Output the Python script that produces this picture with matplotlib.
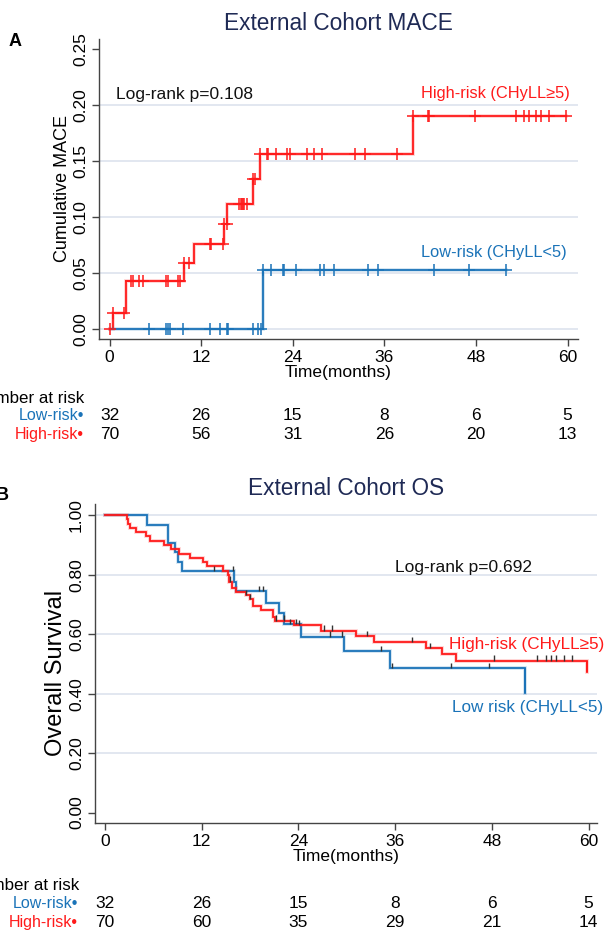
import matplotlib
matplotlib.use("Agg")
import matplotlib.pyplot as plt
import matplotlib.patheffects as pe
from matplotlib.transforms import blended_transform_factory
import numpy as np

plt.rcParams['font.family'] = ['Liberation Sans', 'DejaVu Sans']

# ---------------- Data ----------------
time_ticks = [0, 12, 24, 36, 48, 60]

# Panel A: cumulative MACE
mace_hi_t = [0, 0.5, 2.1, 9.7, 11.0, 15.0, 15.4, 18.8, 19.7, 39.8]
mace_hi_v = [0, 0.0143, 0.0429, 0.0592, 0.0756, 0.0935, 0.1116, 0.1338, 0.1567, 0.1905]
mace_hi_end = 59.8
mace_hi_cens = [0, 0.5, 1.9, 2.8, 3.0, 3.9, 4.4, 7.4, 7.6, 8.9, 9.2, 9.75, 10.4, 13.1, 13.3,
                14.8, 15.0, 15.35, 16.9, 17.2, 17.4, 17.5, 17.65, 18.0, 18.8, 19.1, 19.7, 20.6,
                20.8, 21.8, 23.2, 23.6, 25.9, 26.8, 27.8, 32.1, 33.4, 37.7, 39.8, 41.7, 41.9,
                47.9, 53.2, 54.3, 54.9, 55.9, 56.5, 57.6, 59.8]

mace_lo_t = [0, 20.05]
mace_lo_v = [0, 0.0526]
mace_lo_end = 52.0
mace_lo_cens = [5.2, 7.4, 7.6, 7.9, 9.6, 13.1, 14.4, 15.35, 15.5, 18.8, 19.5, 19.9, 20.05, 21.1,
                22.7, 22.9, 24.4, 27.6, 28.1, 29.4, 33.9, 35.2, 42.5, 47.1, 52.0]

mace_lo_risk = [32, 26, 15, 8, 6, 5]
mace_hi_risk = [70, 56, 31, 26, 20, 13]

# Panel B: overall survival
os_hi_t = [0, 2.7, 2.9, 3.1, 3.8, 5.1, 5.6, 7.3, 8.2, 9.2, 10.5, 12.1, 12.6, 14.7, 15.2, 15.4,
           15.7, 16.3, 17.5, 18.0, 18.4, 19.3, 20.9, 21.1, 23.4, 26.8, 31.2, 33.4, 39.8, 41.8,
           43.5, 59.8]
os_hi_s = [1.0, 0.986, 0.971, 0.957, 0.943, 0.929, 0.914, 0.900, 0.886, 0.871, 0.857, 0.843,
           0.829, 0.814, 0.800, 0.777, 0.757, 0.743, 0.732, 0.718, 0.695, 0.681, 0.659, 0.645,
           0.631, 0.612, 0.594, 0.573, 0.553, 0.533, 0.511, 0.474]
os_hi_end = 59.8
os_hi_cens = [15.45, 17.5, 18.0, 21.2, 22.2, 24.1, 27.2, 28.2, 32.5, 38.1, 40.3, 48.3, 53.6,
              54.7, 55.3, 56.0, 56.9, 57.9]

os_lo_t = [0, 5.25, 7.8, 8.7, 9.1, 9.55, 16.0, 16.3, 20.0, 21.6, 22.2, 24.3, 29.6, 35.3, 52.1]
os_lo_s = [1.0, 0.969, 0.908, 0.877, 0.844, 0.812, 0.776, 0.745, 0.706, 0.670, 0.634, 0.592,
           0.543, 0.485, 0.403]
os_lo_end = 52.1
os_lo_cens = [13.5, 15.9, 19.1, 19.6, 23.0, 23.7, 27.9, 29.4, 34.3, 35.6, 42.9, 47.6]

os_lo_risk = [32, 26, 15, 8, 6, 5]
os_hi_risk = [70, 60, 35, 29, 21, 14]

# ---------------- Style ----------------
RED = '#ff1a1a'
BLUE = '#1a73b8'
NAVY = '#1f2a55'
GRID = '#dfe5ef'
SPINE = '#444444'
W, H = 605, 930
TICKFS = 12.5
NUMFS = 12.5
ROWFS = 11.5


def step_value(ts, vs, t):
    idx = np.searchsorted(ts, t, side='right') - 1
    return np.asarray(vs)[idx]


def draw_curve(ax, ts, vs, tend, color, lw=1.3):
    x = list(ts) + [tend]
    y = list(vs) + [vs[-1]]
    ax.step(x, y, where='post', color=color, lw=lw, solid_joinstyle='miter',
            path_effects=[pe.Stroke(linewidth=lw + 1.4, foreground=color, alpha=0.2), pe.Normal()],
            zorder=3)


def style_axes(ax, yticks, fmt):
    for s in ['top', 'right']:
        ax.spines[s].set_visible(False)
    for s in ['left', 'bottom']:
        ax.spines[s].set_color(SPINE)
        ax.spines[s].set_linewidth(1.0)
    ax.set_xticks(time_ticks)
    ax.set_xticklabels([str(t) for t in time_ticks], fontsize=TICKFS)
    ax.set_yticks(yticks)
    ax.set_yticklabels([fmt.format(v) for v in yticks], fontsize=TICKFS, rotation=90, va='center')
    ax.tick_params(axis='both', direction='out', length=5, width=1.0, color=SPINE, pad=3)


fig = plt.figure(figsize=(W / 100, H / 100), dpi=100)

# ---------------- Panel A ----------------
ax1 = fig.add_axes([99 / W, 1 - 339 / H, 479 / W, 300 / H])
ax1.set_xlim(-1.39, 61.37)
ax1.set_ylim(-0.0089, 0.259)
for g in [0, 0.05, 0.10, 0.15, 0.20]:
    ax1.axhline(g, color=GRID, lw=1.3, zorder=1)
draw_curve(ax1, mace_hi_t, mace_hi_v, mace_hi_end, RED)
draw_curve(ax1, mace_lo_t, mace_lo_v, mace_lo_end, BLUE)
ax1.plot(mace_hi_cens, step_value(mace_hi_t, mace_hi_v, mace_hi_cens), ls='none', marker='+',
         ms=8, mew=1.1, color=RED, zorder=4)
ax1.plot(mace_lo_cens, step_value(mace_lo_t, mace_lo_v, mace_lo_cens), ls='none', marker='+',
         ms=8, mew=1.1, color=BLUE, zorder=4)
style_axes(ax1, [0, 0.05, 0.10, 0.15, 0.20, 0.25], '{:.2f}')
ax1.set_xlabel('Time(months)', fontsize=12.5, labelpad=0)
ax1.set_ylabel('Cumulative MACE', fontsize=13)
ax1.yaxis.set_label_coords(-0.058, 0.5)
ax1.text(0.84, 0.209, 'Log-rank p=0.108', fontsize=12.5, ha='left', va='center', color='#111111')
ax1.text(60.3, 0.21, 'High-risk (CHyLL≥5)', fontsize=11.8, ha='right', va='center', color=RED)
ax1.text(59.9, 0.068, 'Low-risk (CHyLL<5)', fontsize=11.8, ha='right', va='center', color=BLUE)

fig.text(338.5 / W, 1 - 23 / H, 'External Cohort MACE', fontsize=16.3, ha='center', va='center',
         color=NAVY)
fig.text(15 / W, 1 - 42 / H, 'A', fontsize=13, fontweight='bold', ha='center', va='center')

tr1 = blended_transform_factory(ax1.transData, fig.transFigure)
fig.text(84 / W, 1 - 398 / H, 'Number at risk', fontsize=12.2, ha='right', va='center')
fig.text(84 / W, 1 - 416 / H, 'Low-risk•', fontsize=ROWFS, ha='right', va='center', color=BLUE)
fig.text(84 / W, 1 - 434 / H, 'High-risk•', fontsize=ROWFS, ha='right', va='center', color=RED)
for t, a, b in zip(time_ticks, mace_lo_risk, mace_hi_risk):
    fig.text(t, 1 - 416 / H, str(a), fontsize=NUMFS, ha='center', va='center', transform=tr1)
    fig.text(t, 1 - 434 / H, str(b), fontsize=NUMFS, ha='center', va='center', transform=tr1)

# ---------------- Panel B ----------------
ax2 = fig.add_axes([95 / W, 1 - 823 / H, 502 / W, 319 / H])
ax2.set_xlim(-1.24, 61.04)
ax2.set_ylim(-0.035, 1.038)
for g in [0.2, 0.4, 0.6, 0.8, 1.0]:
    ax2.axhline(g, color=GRID, lw=1.3, zorder=1)
draw_curve(ax2, os_lo_t, os_lo_s, os_lo_end, BLUE)
draw_curve(ax2, os_hi_t, os_hi_s, os_hi_end, RED)
ax2.vlines(os_lo_end, os_lo_s[-1], os_lo_s[-2], color=BLUE, lw=1.3, zorder=3)
ax2.vlines(os_hi_end, os_hi_s[-1], os_hi_s[-2], color=RED, lw=1.3, zorder=3)
for cens, ts, vs in [(os_hi_cens, os_hi_t, os_hi_s), (os_lo_cens, os_lo_t, os_lo_s)]:
    yv = step_value(ts, vs, cens)
    ax2.vlines(cens, yv, yv + 0.018, color='#333333', lw=1.0, zorder=4)
style_axes(ax2, [0, 0.2, 0.4, 0.6, 0.8, 1.0], '{:.2f}')
ax2.set_xlabel('Time(months)', fontsize=12.5, labelpad=0)
ax2.set_ylabel('Overall Survival', fontsize=17)
ax2.yaxis.set_label_coords(-0.056, 0.47)
ax2.text(36.0, 0.826, 'Log-rank p=0.692', fontsize=12.5, ha='left', va='center', color='#111111')
ax2.text(61.9, 0.564, 'High-risk (CHyLL≥5)', fontsize=12.3, ha='right', va='center', color=RED,
         clip_on=False)
ax2.text(61.8, 0.355, 'Low risk (CHyLL<5)', fontsize=12.3, ha='right', va='center', color=BLUE,
         clip_on=False)

fig.text(346 / W, 1 - 488 / H, 'External Cohort OS', fontsize=16.3, ha='center', va='center',
         color=NAVY)
fig.text(8.5 / W, 1 - 495 / H, 'B', fontsize=13, fontweight='bold', ha='right', va='center')

tr2 = blended_transform_factory(ax2.transData, fig.transFigure)
fig.text(79 / W, 1 - 885 / H, 'Number at risk', fontsize=12.2, ha='right', va='center')
fig.text(78 / W, 1 - 903 / H, 'Low-risk•', fontsize=ROWFS, ha='right', va='center', color=BLUE)
fig.text(78 / W, 1 - 922 / H, 'High-risk•', fontsize=ROWFS, ha='right', va='center', color=RED)
for t, a, b in zip(time_ticks, os_lo_risk, os_hi_risk):
    fig.text(t, 1 - 903 / H, str(a), fontsize=NUMFS, ha='center', va='center', transform=tr2)
    fig.text(t, 1 - 922 / H, str(b), fontsize=NUMFS, ha='center', va='center', transform=tr2)

fig.savefig('out.png', dpi=100)
